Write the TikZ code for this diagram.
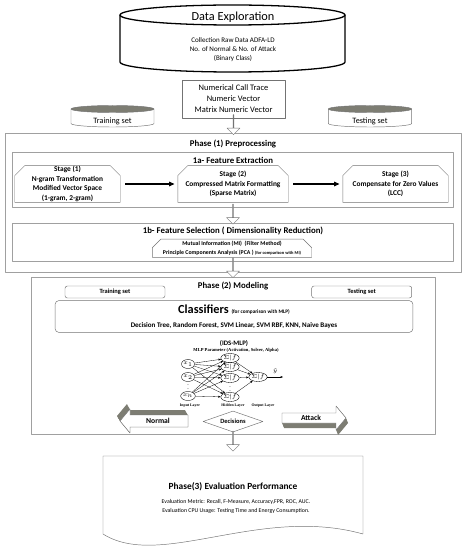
\documentclass[tikz,border=0pt]{standalone}
\usepackage{fontspec}
\setmainfont{Carlito}
\newfontfamily\serifnet{Liberation Serif}
\usepackage{tikz}
\usetikzlibrary{shapes.geometric,shapes.arrows,arrows.meta}
\definecolor{boxgray}{RGB}{160,160,160}
\definecolor{edgegray}{RGB}{115,115,115}
\definecolor{shadegray}{RGB}{125,125,115}
\newcommand{\fs}[2]{\fontsize{#1}{#2}\selectfont}
% outline with cut top corners round a named node
\newcommand{\chamfer}[2]{\draw [draw=edgegray] (#1.south west) -- ([yshift=-#2]#1.north west) -- ([xshift=#2]#1.north west) -- ([xshift=-#2]#1.north east) -- ([yshift=-#2]#1.north east) -- (#1.south east) -- cycle;}

\begin{document}
\begin{tikzpicture}[x=0.3mm, y=-0.3mm, line join=round]
    % Define styles
    \tikzstyle{phase} = [rectangle, draw=boxgray, line width=0.8pt, inner sep=0pt]
    \tikzstyle{title} = [font=\bfseries\fs{7.5}{9}]
    \tikzstyle{stage} = [rectangle, align=center, inner sep=0pt, font=\bfseries\fs{6.3}{8.1}]
    \tikzstyle{setname} = [font=\fs{7}{8}]
    \tikzstyle{split} = [rectangle, rounded corners=2pt, draw=edgegray, minimum width=30mm, minimum height=3.6mm, inner sep=0pt, font=\bfseries\fs{5.5}{6}]
    \tikzstyle{blockdown} = [single arrow, draw=edgegray, fill=white, rotate=-90, minimum width=3.9mm, minimum height=6mm, single arrow head extend=1.5mm, single arrow head indent=0pt, inner sep=0pt]
    \tikzstyle{flow} = [-{Triangle[length=1.6mm,width=1.4mm]}, line width=0.9pt, shorten <=1.5mm, shorten >=1mm]
    \tikzstyle{neuron} = [ellipse, draw=black, line width=0.3pt, minimum width=3.6mm, minimum height=2.7mm, inner sep=0pt, font=\fs{3.5}{4}]
    \tikzstyle{synapse} = [-{Stealth[length=0.8mm,width=0.6mm]}, line width=0.25pt]
    \tikzstyle{layername} = [font=\serifnet\bfseries\fs{3.3}{4}]

    \useasboundingbox (0,0) rectangle (465,550);

    % Data Exploration
    \draw [black, line width=1.1pt, fill=white] (120,15) -- (120,62) arc [start angle=180, end angle=0, x radius=112.5, y radius=10] -- (345,15);
    \draw [black, line width=1.1pt] (232.5,15) ellipse [x radius=112.5, y radius=10];
    \node [font=\fs{10.5}{12}] (data_title) at (233,17) {Data Exploration};
    \node [align=center, font=\fs{6}{7.7}] (data_text) at (233,50) {Collection Raw Data ADFA-LD\\No. of Normal \& No. of Attack\\(Binary Class)};
    \node [rectangle, draw=edgegray, minimum width=30.9mm, minimum height=11.4mm, align=center, font=\fs{7.2}{9.4}] (num_vec) at (233.5,99) {Numerical Call Trace\\Numeric Vector\\Matrix Numeric Vector};

    % Training set and Testing set
    \draw [edgegray, fill=white] (71,109) -- (71,123.5) arc [start angle=180, end angle=0, x radius=41.5, y radius=3.5] -- (154,109);
    \draw [edgegray, fill=shadegray] (112.5,109) ellipse [x radius=41.5, y radius=3.5];
    \node [setname] (train_set) at (112.5,121) {Training set};
    \draw [edgegray, fill=white] (328.3,109) -- (328.3,123.5) arc [start angle=180, end angle=0, x radius=41.7, y radius=3.5] -- (411.7,109);
    \draw [edgegray, fill=shadegray] (370,109) ellipse [x radius=41.7, y radius=3.5];
    \node [setname] (test_set) at (370,121) {Testing set};

    % Phase (1) Preprocessing
    \node [phase, minimum width=136.8mm, minimum height=41.7mm] (phase_one) at (233,202.5) {};
    \node [title] (phase_one_title) at (233,144) {Phase (1) Preprocessing};
    \node [phase, minimum width=132.3mm, minimum height=16.5mm] (extract_box) at (232.5,179.5) {};
    \node [title] (extract_title) at (233,160) {1a- Feature Extraction};
    \node [stage, minimum width=31.5mm, minimum height=10.9mm] (stage_one) at (67.5,184) {Stage (1)\\N-gram Transformation\\Modified Vector Space\\(1-gram, 2-gram)};
    \node [stage, minimum width=33mm, minimum height=10.9mm] (stage_two) at (233,184) {Stage (2)\\Compressed Matrix Formatting\\(Sparse Matrix)};
    \node [stage, minimum width=31.5mm, minimum height=10.9mm] (stage_three) at (395.5,184) {Stage (3)\\Compensate for Zero Values\\(LCC)};
    \chamfer{stage_one}{3mm}
    \chamfer{stage_two}{3mm}
    \chamfer{stage_three}{3mm}
    \draw [flow] (stage_one) -- (stage_two);
    \draw [flow] (stage_two) -- (stage_three);
    \node [phase, minimum width=132.3mm, minimum height=11.4mm] (select_box) at (232.5,242) {};
    \node [title] (select_title) at (233,231) {1b- Feature Selection ( Dimensionality Reduction)};
    \node [stage, minimum width=47.7mm, minimum height=5.3mm, font=\bfseries\fs{5}{7}] (select_methods) at (232,248.2) {Mutual Information (MI)\ \ (Filter Method)\\Principle Components Analysis (PCA ) {\fs{3.8}{7}(for comparison with MI)}};
    \chamfer{select_methods}{2.6mm}

    % Phase (2) Modeling
    \node [phase, minimum width=121mm, minimum height=47.3mm] (phase_two) at (233.3,356) {};
    \node [title] (phase_two_title) at (233,285.7) {Phase (2) Modeling};
    \node [split] (train_split) at (115,292) {Training set};
    \node [split] (test_split) at (361.7,292) {Testing set};
    \node [rectangle, rounded corners=3pt, draw=edgegray, minimum width=107.3mm, minimum height=9.5mm] (classifiers) at (234,316.5) {};
    \node [font=\bfseries\fs{10.5}{12}] (clf_title) at (234,310) {Classifiers {\fs{4.5}{5}(for comparison with MLP)}};
    \node [font=\bfseries\fs{6}{7}] (clf_list) at (234,326) {Decision Tree, Random Forest, SVM Linear, SVM RBF, KNN, Naive Bayes};

    % MLP network
    \node [font=\bfseries\fs{5.8}{7}] (mlp_title) at (234,343) {(IDS-MLP)};
    \node [font=\serifnet\bfseries\fs{3.9}{5}] (mlp_params) at (236,350.7) {MLP Parameter (Activation, Solver, Alpha)};
    \node [neuron] (in_1) at (188,364) {$x_1$};
    \node [neuron] (in_2) at (188,377) {$x_2$};
    \node [neuron] (in_n) at (188,396) {$x_n$};
    \node [font=\fs{5}{5}] (in_dots) at (188,386) {$\vdots$};
    \node [neuron] (hid_1) at (230,358) {$\Sigma|f$};
    \node [neuron] (hid_2) at (230,367) {$\Sigma|f$};
    \node [neuron] (hid_3) at (230,378) {$\Sigma|f$};
    \node [neuron] (hid_m) at (230,397) {$\Sigma|f$};
    \node [font=\fs{5}{5}] (hid_dots) at (230,388) {$\vdots$};
    \node [neuron] (out) at (258,377) {$\Sigma|f$};
    \coordinate (y_hat) at (283,377);
    \foreach \i in {in_1,in_2,in_n}
        \foreach \j in {hid_1,hid_2,hid_3,hid_m}
            \draw [synapse] (\i) -- (\j);
    \foreach \j in {hid_1,hid_2,hid_3,hid_m}
        \draw [synapse] (\j) -- (out);
    \draw [synapse] (out) -- (y_hat) node [midway, above=-0.5pt, font=\fs{4}{4}] (y_label) {$\hat{y}$};
    \node [layername] (in_label) at (190,406) {Input Layer};
    \node [layername] (hid_label) at (233,406) {Hidden Layer};
    \node [layername] (out_label) at (263,406) {Output Layer};

    % Decisions
    \foreach \k in {0,0.1,...,1.01}
        \fill [shadegray, shift={(-3*\k,-5*\k)}] (120,421) -- (130,409) -- (130,415) -- (188,415) -- (188,427) -- (130,427) -- (130,433) -- cycle;
    \draw [draw=edgegray, fill=white] (120,421) -- (130,409) -- (130,415) -- (188,415) -- (188,427) -- (130,427) -- (130,433) -- cycle;
    \foreach \k in {0,0.1,...,1.01}
        \fill [shadegray, shift={(2*\k,5*\k)}] (346,418) -- (336,406) -- (336,413) -- (282,413) -- (282,423) -- (336,423) -- (336,430) -- cycle;
    \draw [draw=edgegray, fill=white] (346,418) -- (336,406) -- (336,413) -- (282,413) -- (282,423) -- (336,423) -- (336,430) -- cycle;
    \node [font=\bfseries\fs{6.5}{7}] (normal_label) at (158,421) {Normal};
    \node [font=\bfseries\fs{6.5}{7}] (attack_label) at (311,418) {Attack};
    \node [diamond, draw=edgegray, minimum width=18mm, minimum height=6.3mm, aspect=2.9, inner sep=0pt, font=\bfseries\fs{5.5}{6}] (decisions) at (233,421.5) {Decisions};

    % Phase(3) Evaluation
    \draw [draw=edgegray, fill=white] (103,456) -- (363,456) -- (363,534) .. controls (260,505) and (160,570) .. (103,534) -- cycle;
    \node [font=\bfseries\fs{8}{9}] (phase_three_title) at (233,486.7) {Phase(3) Evaluation Performance};
    \node [align=center, font=\fs{5}{8}] (phase_three_text) at (236,506.3) {Evaluation Metric: Recall, F-Measure, Accuracy,FPR, ROC, AUC.\\Evaluation CPU Usage: Testing Time and Energy Consumption.};

    % block arrows between parts
    \node [blockdown] (arrow_one) at (233.5,124.5) {};
    \node [blockdown] (arrow_two) at (233,214) {};
    \node [blockdown] (arrow_three) at (233,267.5) {};
    \node [blockdown] (arrow_four) at (233,441) {};
\end{tikzpicture}
\end{document}
